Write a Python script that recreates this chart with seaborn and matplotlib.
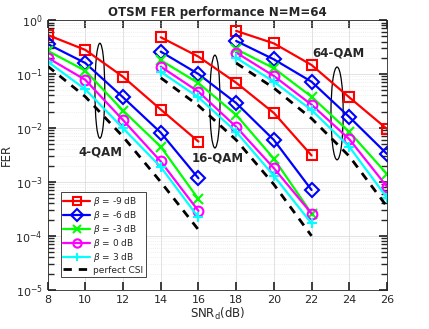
import numpy as np
import pandas as pd
import seaborn as sns
import matplotlib.pyplot as plt
from matplotlib.patches import Ellipse

# data
snr_4 = [8, 10, 12, 14, 16]
snr_16 = [14, 16, 18, 20, 22]
snr_64 = [18, 20, 22, 24, 26]

fer_4 = {
    '-9': [0.53, 0.28, 0.089, 0.022, 0.0056],
    '-6': [0.36, 0.16, 0.037, 0.0082, 0.00117],
    '-3': [0.27, 0.115, 0.021, 0.0045, 0.00048],
    '0': [0.20, 0.078, 0.014, 0.0024, 0.00029],
    '3': [0.17, 0.052, 0.0099, 0.0019, 0.00022],
    'csi': [0.14, 0.038, 0.0069, 0.0010, 0.00013],
}
fer_16 = {
    '-9': [0.48, 0.21, 0.069, 0.019, 0.0031],
    '-6': [0.26, 0.10, 0.029, 0.006, 0.00071],
    '-3': [0.18, 0.068, 0.0175, 0.0027, 0.00026],
    '0': [0.137, 0.047, 0.0105, 0.0018, 0.00026],
    '3': [0.11, 0.037, 0.0085, 0.0013, 0.00017],
    'csi': [0.085, 0.026, 0.006, 0.0009, 0.0001],
}
fer_64 = {
    '-9': [0.63, 0.37, 0.147, 0.037, 0.0096],
    '-6': [0.41, 0.187, 0.072, 0.016, 0.0033],
    '-3': [0.29, 0.128, 0.038, 0.0085, 0.0014],
    '0': [0.25, 0.092, 0.027, 0.0062, 0.00082],
    '3': [0.20, 0.072, 0.0215, 0.0045, 0.00051],
    'csi': [0.16, 0.055, 0.015, 0.003, 0.00035],
}

keys = ['-9', '-6', '-3', '0', '3', 'csi']
labels = [r'$\beta$ = -9 dB', r'$\beta$ = -6 dB', r'$\beta$ = -3 dB',
          r'$\beta$ = 0 dB', r'$\beta$ = 3 dB', 'perfect CSI']
colors = ['#ff0000', '#0000ff', '#00ff00', '#ff00ff', '#00ffff', 'black']
markers = ['s', 'D', 'x', 'o', '+', None]

sns.set_theme(style='ticks')
plt.rcParams['font.family'] = ['DejaVu Sans']

fig = plt.figure(figsize=(4.29, 3.29), dpi=100)
ax = fig.add_axes([0.111, 0.119, 0.791, 0.820])

for snr, fer in [(snr_4, fer_4), (snr_16, fer_16), (snr_64, fer_64)]:
    for k, lab, c, m in zip(keys, labels, colors, markers):
        df = pd.DataFrame({'snr': snr, 'fer': fer[k]})
        first = snr is snr_4
        if k == 'csi':
            sns.lineplot(data=df, x='snr', y='fer', ax=ax, color=c, lw=2,
                         linestyle=(0, (3, 2.5)), label=lab if first else None)
        else:
            sns.lineplot(data=df, x='snr', y='fer', ax=ax, color=c, lw=1.6,
                         marker=m, markersize=7, markerfacecolor='none',
                         markeredgecolor=c, markeredgewidth=1.5,
                         label=lab if first else None)

ax.set_yscale('log')
ax.set_xlim(8, 26)
ax.set_ylim(1e-5, 1)
ax.set_xticks([8, 10, 12, 14, 16, 18, 20, 22, 24, 26])
ax.grid(True, which='major', color='#dddddd', lw=0.6)
ax.grid(True, which='minor', color='#e4e4e4', lw=0.5, linestyle=':')
ax.tick_params(labelsize=8, direction='in', which='both', colors='#262626',
               top=True, right=True)
for s in ax.spines.values():
    s.set_color('#262626')
    s.set_linewidth(0.6)

ax.set_title('OTSM FER performance N=M=64', fontsize=8.5, fontweight='bold', pad=3)
ax.set_xlabel(r'SNR$_\mathrm{d}$(dB)', fontsize=8.5, labelpad=1)
ax.set_ylabel('FER', fontsize=8.5, labelpad=2)

# ellipses marking each modulation group (axes fractions)
for cx, cy, w, h in [(0.154, 0.738, 0.029, 0.352),
                     (0.493, 0.698, 0.030, 0.344),
                     (0.853, 0.654, 0.036, 0.344)]:
    ax.add_patch(Ellipse((cx, cy), w, h, transform=ax.transAxes,
                         fill=False, edgecolor='black', lw=0.9))

ax.text(10.8, 0.0036, '4-QAM', fontsize=8.5, fontweight='bold', ha='center', va='center')
ax.text(17.05, 0.0028, '16-QAM', fontsize=8.5, fontweight='bold', ha='center', va='center')
ax.text(23.4, 0.25, '64-QAM', fontsize=8.5, fontweight='bold', ha='center', va='center')

leg = ax.legend(loc='lower left', bbox_to_anchor=(0.025, 0.03), fontsize=6.5,
                fancybox=False, framealpha=1, edgecolor='#262626',
                handlelength=3, labelspacing=0.12, borderpad=0.3,
                handletextpad=0.3, markerscale=0.85)
leg.get_frame().set_linewidth(0.6)

fig.savefig('out.png', dpi=100)
